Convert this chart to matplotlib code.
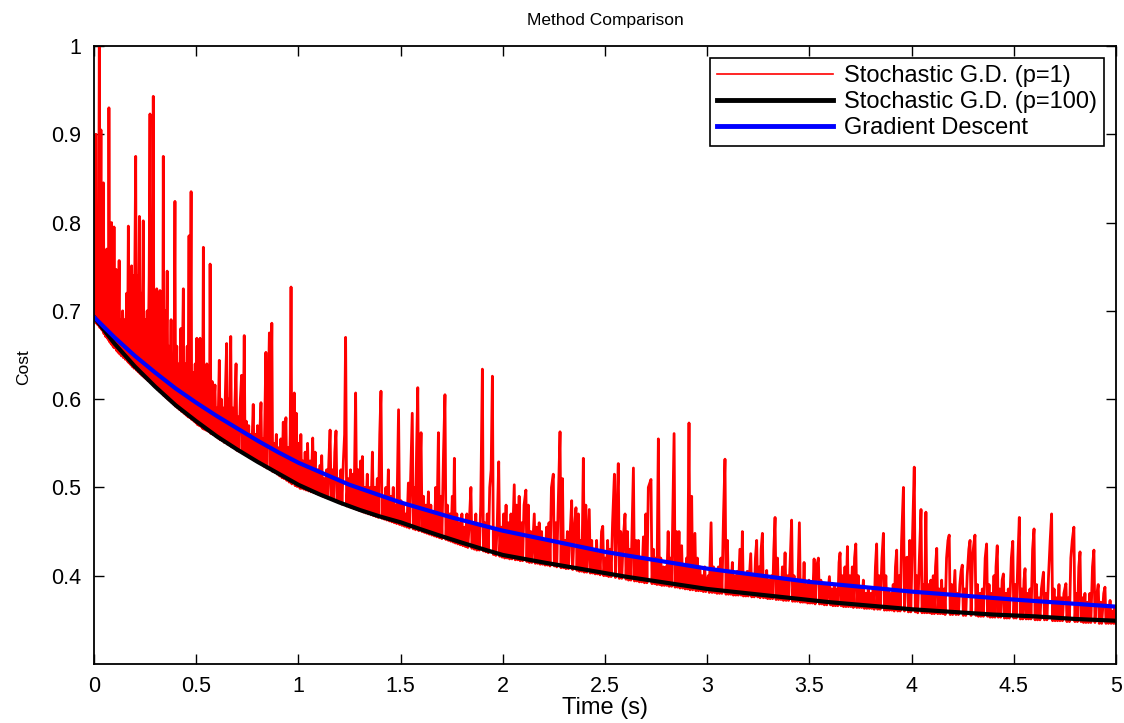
import matplotlib
matplotlib.use("Agg")
import matplotlib.pyplot as plt
from matplotlib.lines import Line2D

plt.rcParams['font.family'] = ['Liberation Sans', 'DejaVu Sans']

# Gradient descent cost (blue)
time_gd = [0.0, 0.1, 0.2, 0.3, 0.4, 0.5, 0.6, 0.7, 0.8, 0.9, 1.0, 1.25, 1.5, 1.75,
           2.0, 2.5, 3.0, 3.5, 4.0, 4.5, 5.0]
cost_gd = [0.693, 0.670, 0.649, 0.630, 0.612, 0.596, 0.581, 0.567, 0.553, 0.540, 0.528,
           0.503, 0.483, 0.466, 0.451, 0.427, 0.408, 0.393, 0.382, 0.373, 0.365]

# Stochastic G.D. with p=100 (black)
time_sgd100 = [0.0, 0.1, 0.2, 0.3, 0.4, 0.5, 0.6, 0.7, 0.8, 0.9, 1.0, 1.1, 1.2, 1.3, 1.4,
               1.5, 1.6, 1.7, 1.8, 1.9, 2.0, 2.2, 2.4, 2.6, 2.8, 3.0, 3.2, 3.4, 3.6, 3.8,
               4.0, 4.2, 4.4, 4.6, 4.8, 5.0]
cost_sgd100 = [0.693, 0.663, 0.637, 0.614, 0.593, 0.575, 0.558, 0.543, 0.529, 0.516, 0.503,
               0.4925, 0.483, 0.4745, 0.467, 0.4605, 0.4525, 0.4448, 0.4374, 0.4303, 0.4235,
               0.415, 0.407, 0.399, 0.392, 0.385, 0.380, 0.375, 0.370, 0.366, 0.362, 0.359,
               0.356, 0.354, 0.351, 0.349]

# Stochastic G.D. with p=1 (red): (time, cost) peaks and dips
sgd1 = [
    (0.000, 0.730), (0.003, 0.895), (0.006, 0.688), (0.009, 0.900), (0.012, 0.686), (0.016, 0.780),
    (0.019, 0.684), (0.023, 0.760), (0.026, 1.000), (0.029, 0.681), (0.034, 0.905), (0.037, 0.679),
    (0.041, 0.740), (0.044, 0.677), (0.046, 0.845), (0.049, 0.674), (0.053, 0.720), (0.057, 0.671),
    (0.062, 0.770), (0.065, 0.669), (0.069, 0.720), (0.071, 0.667), (0.073, 0.930), (0.076, 0.665),
    (0.080, 0.700), (0.083, 0.663), (0.086, 0.800), (0.089, 0.661), (0.093, 0.720), (0.095, 0.659),
    (0.098, 0.795), (0.101, 0.658), (0.105, 0.700), (0.108, 0.747), (0.111, 0.655), (0.115, 0.700),
    (0.118, 0.653), (0.123, 0.757), (0.126, 0.651), (0.130, 0.690), (0.134, 0.649), (0.140, 0.700),
    (0.144, 0.647), (0.150, 0.690), (0.154, 0.645), (0.160, 0.720), (0.164, 0.643), (0.168, 0.796),
    (0.171, 0.641), (0.176, 0.720), (0.180, 0.639), (0.184, 0.751), (0.187, 0.637), (0.192, 0.740),
    (0.196, 0.635), (0.200, 0.760), (0.204, 0.875), (0.207, 0.633), (0.212, 0.740), (0.216, 0.631),
    (0.222, 0.807), (0.225, 0.629), (0.230, 0.720), (0.234, 0.627), (0.241, 0.802), (0.244, 0.625),
    (0.250, 0.690), (0.254, 0.623), (0.260, 0.700), (0.264, 0.621), (0.270, 0.740), (0.274, 0.923),
    (0.277, 0.619), (0.283, 0.700), (0.287, 0.617), (0.290, 0.943), (0.293, 0.615), (0.300, 0.680),
    (0.304, 0.613), (0.307, 0.725), (0.311, 0.611), (0.317, 0.660), (0.320, 0.609), (0.323, 0.723),
    (0.327, 0.608), (0.333, 0.680), (0.336, 0.606), (0.339, 0.875), (0.342, 0.604), (0.348, 0.700),
    (0.352, 0.602), (0.358, 0.745), (0.361, 0.600), (0.367, 0.660), (0.371, 0.598), (0.377, 0.690),
    (0.381, 0.596), (0.387, 0.640), (0.391, 0.594), (0.396, 0.824), (0.399, 0.592), (0.405, 0.660),
    (0.409, 0.590), (0.415, 0.640), (0.419, 0.588), (0.425, 0.680), (0.429, 0.586), (0.437, 0.725),
    (0.440, 0.584), (0.446, 0.640), (0.450, 0.582), (0.456, 0.660), (0.460, 0.580), (0.465, 0.785),
    (0.468, 0.579), (0.472, 0.700), (0.475, 0.835), (0.478, 0.577), (0.485, 0.630), (0.489, 0.575),
    (0.495, 0.640), (0.499, 0.573),
    (0.503, 0.669), (0.507, 0.571), (0.512, 0.610), (0.515, 0.570), (0.519, 0.669), (0.523, 0.569),
    (0.528, 0.620), (0.531, 0.567), (0.535, 0.772), (0.538, 0.566), (0.543, 0.600), (0.547, 0.565),
    (0.552, 0.640), (0.556, 0.564), (0.562, 0.600), (0.565, 0.563), (0.568, 0.753), (0.572, 0.561),
    (0.578, 0.620), (0.582, 0.560), (0.588, 0.600), (0.592, 0.616), (0.596, 0.558), (0.602, 0.590),
    (0.606, 0.556), (0.613, 0.644), (0.617, 0.554), (0.623, 0.600), (0.627, 0.553), (0.633, 0.590),
    (0.637, 0.551), (0.643, 0.610), (0.649, 0.663), (0.653, 0.549), (0.659, 0.600), (0.663, 0.548),
    (0.669, 0.671), (0.673, 0.546), (0.680, 0.590), (0.684, 0.545), (0.690, 0.600), (0.695, 0.640),
    (0.699, 0.542), (0.705, 0.580), (0.709, 0.541), (0.716, 0.600), (0.722, 0.627), (0.726, 0.539),
    (0.731, 0.580), (0.735, 0.672), (0.739, 0.537), (0.745, 0.575), (0.750, 0.536), (0.757, 0.570),
    (0.761, 0.534), (0.767, 0.560), (0.771, 0.533), (0.779, 0.594), (0.783, 0.531), (0.789, 0.560),
    (0.794, 0.530), (0.800, 0.570), (0.805, 0.528), (0.811, 0.560), (0.817, 0.596), (0.821, 0.526),
    (0.828, 0.555), (0.832, 0.524), (0.841, 0.653), (0.845, 0.522), (0.851, 0.580), (0.858, 0.675),
    (0.862, 0.520), (0.866, 0.600), (0.870, 0.686), (0.874, 0.518), (0.880, 0.550), (0.885, 0.517),
    (0.892, 0.560), (0.897, 0.515), (0.903, 0.545), (0.908, 0.513), (0.914, 0.555), (0.920, 0.511),
    (0.926, 0.574), (0.930, 0.510), (0.935, 0.560), (0.939, 0.579), (0.943, 0.508), (0.950, 0.545),
    (0.955, 0.506), (0.960, 0.560), (0.964, 0.727), (0.968, 0.504), (0.974, 0.560), (0.980, 0.607),
    (0.984, 0.502), (0.990, 0.584), (0.994, 0.501), (0.999, 0.550), (1.004, 0.545), (1.008, 0.499),
    (1.012, 0.560), (1.016, 0.499), (1.022, 0.530), (1.027, 0.498), (1.033, 0.540), (1.038, 0.497),
    (1.045, 0.550), (1.050, 0.496), (1.057, 0.530), (1.062, 0.495), (1.070, 0.556), (1.075, 0.494),
    (1.082, 0.540), (1.087, 0.493), (1.094, 0.520), (1.099, 0.492), (1.106, 0.525), (1.110, 0.491),
    (1.114, 0.536), (1.119, 0.490), (1.126, 0.510), (1.131, 0.489), (1.138, 0.520), (1.143, 0.488),
    (1.149, 0.530), (1.155, 0.565), (1.160, 0.487), (1.167, 0.520), (1.172, 0.486), (1.178, 0.540),
    (1.184, 0.564), (1.189, 0.484), (1.196, 0.510), (1.201, 0.483), (1.208, 0.520), (1.213, 0.481),
    (1.220, 0.530), (1.226, 0.560), (1.231, 0.670), (1.236, 0.479), (1.243, 0.510), (1.248, 0.478),
    (1.255, 0.520), (1.260, 0.477), (1.267, 0.515), (1.272, 0.476), (1.280, 0.607), (1.285, 0.475),
    (1.292, 0.520), (1.297, 0.474), (1.304, 0.530), (1.309, 0.473), (1.313, 0.535), (1.318, 0.472),
    (1.325, 0.500), (1.330, 0.471), (1.337, 0.515), (1.342, 0.470), (1.350, 0.500), (1.355, 0.469),
    (1.362, 0.540), (1.367, 0.468), (1.374, 0.500), (1.379, 0.467), (1.386, 0.510), (1.391, 0.466),
    (1.398, 0.560), (1.404, 0.609), (1.409, 0.465), (1.416, 0.490), (1.421, 0.464), (1.428, 0.500),
    (1.433, 0.463), (1.440, 0.520), (1.445, 0.462), (1.452, 0.490), (1.457, 0.461), (1.464, 0.500),
    (1.469, 0.460), (1.476, 0.480), (1.481, 0.459), (1.490, 0.588), (1.495, 0.458), (1.502, 0.485),
    (1.507, 0.457), (1.514, 0.480), (1.519, 0.456), (1.526, 0.470), (1.531, 0.455), (1.538, 0.505),
    (1.543, 0.454), (1.550, 0.520), (1.557, 0.584), (1.562, 0.453), (1.568, 0.500), (1.573, 0.452),
    (1.578, 0.540), (1.584, 0.613), (1.589, 0.451), (1.595, 0.520), (1.600, 0.562), (1.605, 0.450),
    (1.612, 0.490), (1.617, 0.449), (1.624, 0.480), (1.629, 0.448), (1.636, 0.495), (1.641, 0.447),
    (1.648, 0.480), (1.653, 0.446), (1.660, 0.470), (1.665, 0.445), (1.672, 0.500), (1.677, 0.444),
    (1.685, 0.562), (1.690, 0.443), (1.697, 0.490), (1.702, 0.442), (1.710, 0.540), (1.717, 0.605),
    (1.722, 0.441), (1.729, 0.480), (1.734, 0.440), (1.741, 0.470), (1.746, 0.439), (1.753, 0.490),
    (1.758, 0.438), (1.763, 0.533), (1.768, 0.437), (1.775, 0.470), (1.780, 0.436), (1.787, 0.460),
    (1.792, 0.435), (1.800, 0.470), (1.805, 0.434), (1.812, 0.455), (1.817, 0.433), (1.824, 0.470),
    (1.829, 0.432), (1.836, 0.460), (1.844, 0.500), (1.849, 0.431), (1.856, 0.460), (1.861, 0.430),
    (1.868, 0.470), (1.873, 0.429), (1.880, 0.455), (1.885, 0.429), (1.892, 0.480), (1.900, 0.634),
    (1.905, 0.428), (1.912, 0.460), (1.917, 0.427), (1.924, 0.470), (1.929, 0.426), (1.936, 0.500),
    (1.943, 0.520), (1.949, 0.626), (1.954, 0.424), (1.961, 0.450), (1.966, 0.423), (1.973, 0.460),
    (1.980, 0.529), (1.985, 0.422), (1.992, 0.455), (1.997, 0.421),
    (2.004, 0.470), (2.009, 0.420), (2.016, 0.480), (2.021, 0.420), (2.028, 0.460), (2.033, 0.419),
    (2.040, 0.470), (2.045, 0.419), (2.056, 0.503), (2.061, 0.418), (2.068, 0.480), (2.073, 0.418),
    (2.080, 0.490), (2.085, 0.417), (2.092, 0.460), (2.097, 0.417), (2.104, 0.480), (2.113, 0.497),
    (2.118, 0.416), (2.125, 0.480), (2.130, 0.415), (2.137, 0.450), (2.142, 0.415), (2.154, 0.470),
    (2.159, 0.414), (2.166, 0.455), (2.171, 0.414), (2.178, 0.460), (2.183, 0.413), (2.190, 0.450),
    (2.195, 0.413), (2.202, 0.440), (2.207, 0.412), (2.214, 0.455), (2.219, 0.412), (2.226, 0.460),
    (2.231, 0.411), (2.238, 0.500), (2.247, 0.515), (2.252, 0.411), (2.259, 0.460), (2.264, 0.410),
    (2.271, 0.480), (2.280, 0.563), (2.285, 0.409), (2.292, 0.510), (2.297, 0.409), (2.304, 0.440),
    (2.309, 0.408), (2.316, 0.450), (2.321, 0.408), (2.328, 0.440), (2.337, 0.485), (2.342, 0.407),
    (2.349, 0.450), (2.358, 0.477), (2.363, 0.406), (2.370, 0.470), (2.375, 0.405), (2.382, 0.440),
    (2.387, 0.405), (2.394, 0.533), (2.399, 0.404), (2.406, 0.480), (2.411, 0.404), (2.423, 0.475),
    (2.428, 0.403), (2.435, 0.440), (2.440, 0.403), (2.447, 0.430), (2.452, 0.402), (2.459, 0.440),
    (2.464, 0.402), (2.471, 0.425), (2.476, 0.401), (2.483, 0.450), (2.489, 0.456), (2.494, 0.400),
    (2.501, 0.420), (2.506, 0.400), (2.513, 0.440), (2.518, 0.399), (2.525, 0.430), (2.530, 0.399),
    (2.537, 0.460), (2.546, 0.515), (2.551, 0.398), (2.558, 0.470), (2.565, 0.527), (2.570, 0.397),
    (2.577, 0.450), (2.582, 0.397), (2.589, 0.440), (2.598, 0.470), (2.603, 0.396), (2.610, 0.450),
    (2.615, 0.395), (2.622, 0.430), (2.627, 0.395), (2.639, 0.522), (2.644, 0.394), (2.651, 0.440),
    (2.656, 0.394), (2.663, 0.440), (2.668, 0.393), (2.675, 0.420), (2.680, 0.393), (2.688, 0.444),
    (2.693, 0.392), (2.700, 0.470), (2.705, 0.392), (2.712, 0.500), (2.725, 0.509), (2.730, 0.391),
    (2.737, 0.430), (2.742, 0.391), (2.749, 0.420), (2.754, 0.390), (2.761, 0.555), (2.766, 0.390),
    (2.773, 0.420), (2.778, 0.389), (2.785, 0.410), (2.790, 0.389), (2.797, 0.410), (2.802, 0.389),
    (2.809, 0.450), (2.814, 0.388), (2.821, 0.420), (2.826, 0.388), (2.838, 0.561), (2.843, 0.387),
    (2.850, 0.450), (2.855, 0.387), (2.862, 0.450), (2.867, 0.386), (2.875, 0.434), (2.880, 0.386),
    (2.887, 0.410), (2.892, 0.385), (2.899, 0.420), (2.904, 0.385), (2.911, 0.573), (2.916, 0.384),
    (2.924, 0.490), (2.929, 0.384), (2.940, 0.448), (2.945, 0.383), (2.952, 0.420), (2.957, 0.383),
    (2.964, 0.410), (2.969, 0.383), (2.976, 0.400), (2.981, 0.382), (2.988, 0.410), (2.993, 0.382),
    (3.005, 0.400), (3.010, 0.381), (3.019, 0.460), (3.024, 0.381), (3.031, 0.410), (3.036, 0.381),
    (3.043, 0.405), (3.048, 0.380), (3.055, 0.410), (3.060, 0.380), (3.067, 0.420), (3.072, 0.380),
    (3.080, 0.470), (3.087, 0.532), (3.092, 0.379), (3.099, 0.440), (3.104, 0.379), (3.111, 0.405),
    (3.116, 0.379), (3.123, 0.415), (3.128, 0.378), (3.135, 0.400), (3.140, 0.378), (3.147, 0.405),
    (3.152, 0.378), (3.160, 0.430), (3.166, 0.378), (3.172, 0.450), (3.177, 0.377), (3.184, 0.400),
    (3.189, 0.377), (3.196, 0.405), (3.201, 0.377), (3.213, 0.425), (3.218, 0.376), (3.225, 0.400),
    (3.230, 0.376), (3.236, 0.420), (3.242, 0.440), (3.247, 0.376), (3.254, 0.410), (3.259, 0.375),
    (3.264, 0.430), (3.270, 0.448), (3.275, 0.375), (3.282, 0.400), (3.287, 0.375), (3.291, 0.406),
    (3.296, 0.374), (3.303, 0.395), (3.308, 0.374), (3.315, 0.400), (3.320, 0.374), (3.326, 0.430),
    (3.332, 0.466), (3.337, 0.373), (3.344, 0.420), (3.349, 0.373), (3.356, 0.395), (3.361, 0.373),
    (3.368, 0.410), (3.373, 0.372), (3.381, 0.426), (3.386, 0.372), (3.393, 0.400), (3.398, 0.372),
    (3.405, 0.410), (3.413, 0.463), (3.418, 0.371), (3.425, 0.400), (3.430, 0.371), (3.437, 0.395),
    (3.442, 0.371), (3.451, 0.460), (3.456, 0.370), (3.463, 0.395), (3.468, 0.370), (3.474, 0.415),
    (3.479, 0.370), (3.486, 0.390), (3.491, 0.369), (3.498, 0.395), (3.503, 0.369), (3.510, 0.390),
    (3.515, 0.369), (3.523, 0.419), (3.528, 0.368), (3.535, 0.410), (3.544, 0.420), (3.549, 0.368),
    (3.556, 0.395), (3.561, 0.368), (3.568, 0.390), (3.573, 0.367), (3.580, 0.390), (3.585, 0.367),
    (3.598, 0.399), (3.603, 0.367), (3.610, 0.385), (3.615, 0.366), (3.622, 0.390), (3.627, 0.366),
    (3.634, 0.385), (3.639, 0.366), (3.645, 0.415), (3.650, 0.426), (3.655, 0.366), (3.662, 0.400),
    (3.667, 0.365), (3.674, 0.410), (3.679, 0.365), (3.686, 0.433), (3.691, 0.365), (3.698, 0.400),
    (3.703, 0.365), (3.710, 0.410), (3.715, 0.364), (3.721, 0.420), (3.727, 0.436), (3.732, 0.364),
    (3.739, 0.400), (3.744, 0.364), (3.751, 0.385), (3.756, 0.364), (3.764, 0.395), (3.769, 0.363),
    (3.776, 0.380), (3.781, 0.363), (3.788, 0.385), (3.793, 0.363), (3.800, 0.380), (3.805, 0.363),
    (3.812, 0.385), (3.817, 0.362), (3.823, 0.410), (3.829, 0.436), (3.834, 0.362), (3.841, 0.400),
    (3.846, 0.362), (3.855, 0.420), (3.862, 0.448), (3.867, 0.361), (3.874, 0.400), (3.879, 0.361),
    (3.886, 0.385), (3.891, 0.361), (3.898, 0.380), (3.903, 0.361), (3.910, 0.390), (3.915, 0.360),
    (3.921, 0.410), (3.927, 0.429), (3.932, 0.360), (3.939, 0.400), (3.944, 0.360), (3.951, 0.440),
    (3.960, 0.500), (3.965, 0.360), (3.972, 0.420), (3.979, 0.421), (3.984, 0.359), (3.991, 0.440),
    (3.996, 0.359),
    (4.004, 0.440), (4.013, 0.523), (4.018, 0.359), (4.025, 0.400), (4.030, 0.358), (4.038, 0.420),
    (4.046, 0.475), (4.051, 0.358), (4.058, 0.390), (4.063, 0.358), (4.070, 0.472), (4.075, 0.358),
    (4.082, 0.390), (4.087, 0.358), (4.094, 0.395), (4.099, 0.357), (4.106, 0.400), (4.111, 0.357),
    (4.117, 0.410), (4.123, 0.431), (4.128, 0.357), (4.135, 0.385), (4.140, 0.357), (4.147, 0.395),
    (4.152, 0.357), (4.159, 0.385), (4.164, 0.356), (4.171, 0.420), (4.178, 0.440), (4.184, 0.446),
    (4.189, 0.356), (4.196, 0.390), (4.201, 0.356), (4.212, 0.406), (4.217, 0.356), (4.224, 0.380),
    (4.229, 0.356), (4.236, 0.390), (4.242, 0.405), (4.248, 0.412), (4.253, 0.355), (4.260, 0.385),
    (4.265, 0.355), (4.272, 0.400), (4.280, 0.430), (4.286, 0.440), (4.291, 0.355), (4.298, 0.420),
    (4.304, 0.435), (4.310, 0.446), (4.315, 0.355), (4.322, 0.390), (4.327, 0.354), (4.334, 0.380),
    (4.339, 0.354), (4.346, 0.385), (4.351, 0.354), (4.360, 0.420), (4.367, 0.436), (4.372, 0.354),
    (4.379, 0.390), (4.384, 0.353), (4.391, 0.380), (4.396, 0.353), (4.403, 0.400), (4.408, 0.353),
    (4.413, 0.410), (4.419, 0.434), (4.424, 0.353), (4.431, 0.385), (4.436, 0.353), (4.443, 0.395),
    (4.449, 0.402), (4.454, 0.352), (4.461, 0.380), (4.466, 0.352), (4.473, 0.385), (4.478, 0.352),
    (4.488, 0.420), (4.495, 0.439), (4.500, 0.352), (4.507, 0.390), (4.512, 0.352), (4.520, 0.420),
    (4.527, 0.466), (4.532, 0.351), (4.539, 0.385), (4.544, 0.351), (4.550, 0.395), (4.555, 0.408),
    (4.560, 0.351), (4.567, 0.380), (4.572, 0.351), (4.579, 0.385), (4.584, 0.351), (4.592, 0.430),
    (4.599, 0.453), (4.604, 0.350), (4.611, 0.390), (4.616, 0.350), (4.623, 0.375), (4.628, 0.350),
    (4.635, 0.385), (4.645, 0.404), (4.650, 0.350), (4.657, 0.380), (4.662, 0.350), (4.670, 0.400),
    (4.678, 0.440), (4.685, 0.470), (4.690, 0.349), (4.697, 0.385), (4.702, 0.349), (4.709, 0.375),
    (4.714, 0.349), (4.721, 0.390), (4.726, 0.349), (4.733, 0.375), (4.738, 0.349), (4.745, 0.380),
    (4.755, 0.391), (4.760, 0.348), (4.767, 0.375), (4.772, 0.348), (4.779, 0.420), (4.786, 0.440),
    (4.794, 0.455), (4.799, 0.348), (4.806, 0.380), (4.811, 0.348), (4.818, 0.410), (4.824, 0.427),
    (4.829, 0.348), (4.836, 0.375), (4.841, 0.347), (4.848, 0.380), (4.853, 0.347), (4.860, 0.370),
    (4.865, 0.347), (4.872, 0.380), (4.877, 0.347), (4.885, 0.410), (4.892, 0.429), (4.897, 0.347),
    (4.904, 0.375), (4.913, 0.390), (4.918, 0.346), (4.925, 0.370), (4.930, 0.346), (4.940, 0.380),
    (4.946, 0.387), (4.951, 0.346), (4.958, 0.365), (4.963, 0.346), (4.971, 0.372), (4.976, 0.346),
    (4.983, 0.360), (4.988, 0.346), (4.995, 0.365), (5.000, 0.346),
]
time_sgd1 = [p[0] for p in sgd1]
cost_sgd1 = [p[1] for p in sgd1]

legend_labels = ['Stochastic G.D. (p=1)', 'Stochastic G.D. (p=100)', 'Gradient Descent']
x_ticks = [0, 0.5, 1, 1.5, 2, 2.5, 3, 3.5, 4, 4.5, 5]
x_ticklabels = ['0', '0.5', '1', '1.5', '2', '2.5', '3', '3.5', '4', '4.5', '5']
y_ticks = [0.4, 0.5, 0.6, 0.7, 0.8, 0.9, 1.0]
y_ticklabels = ['0.4', '0.5', '0.6', '0.7', '0.8', '0.9', '1']

fig = plt.figure(figsize=(11.24, 7.23), dpi=100)
ax = fig.add_axes([94 / 1124, 59 / 723, 1022 / 1124, 618 / 723])

ax.plot(time_sgd1, cost_sgd1, color='#ff0000', linewidth=2.0)
ax.plot(time_sgd100, cost_sgd100, color='black', linewidth=3)
ax.plot(time_gd, cost_gd, color='#0000ff', linewidth=3)

ax.set_xlim(0, 5)
ax.set_ylim(0.3, 1)
ax.set_xticks(x_ticks)
ax.set_xticklabels(x_ticklabels)
ax.set_yticks(y_ticks)
ax.set_yticklabels(y_ticklabels)
ax.tick_params(direction='in', top=True, right=True, length=7, width=1,
               labelsize=15.5, pad=9)
for sp in ax.spines.values():
    sp.set_linewidth(1.3)

ax.set_title('Method Comparison', fontsize=12.5, pad=15)
ax.set_xlabel('Time (s)', fontsize=17, va='top')
ax.xaxis.set_label_coords(0.5, -0.053)
ax.set_ylabel('Cost', fontsize=12.5)
ax.yaxis.set_label_coords(-0.062, 0.48)

handles = [Line2D([], [], color='#ff0000', linewidth=1.2),
           Line2D([], [], color='black', linewidth=3.5),
           Line2D([], [], color='#0000ff', linewidth=3.5)]
leg = ax.legend(handles, legend_labels, loc='upper right', fontsize=17,
                fancybox=False, framealpha=1, edgecolor='black',
                handlelength=4.9, handletextpad=0.47, labelspacing=0.18,
                borderaxespad=0.5, borderpad=0.3)
leg.get_frame().set_linewidth(1.2)

fig.savefig('out.png', dpi=100)
